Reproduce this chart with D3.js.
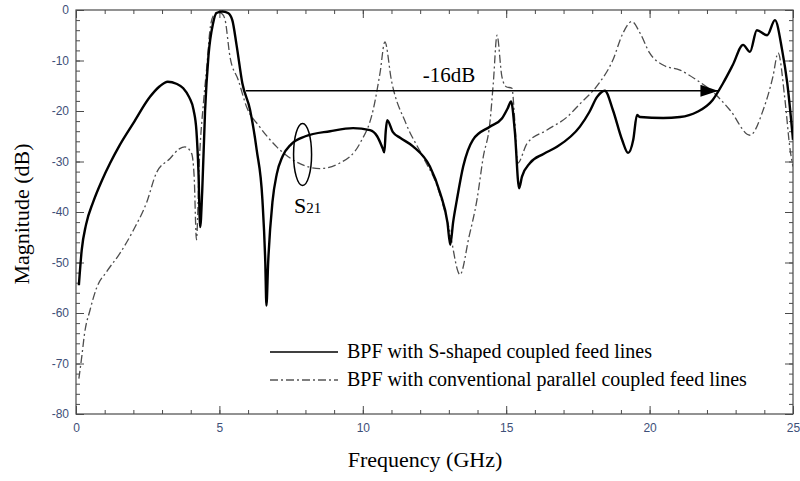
<!DOCTYPE html>
<html>
<head>
<meta charset="utf-8">
<script src="https://cdn.jsdelivr.net/npm/d3@7"></script>
<style>
  body { margin: 0; background: #fff; }
  svg { display: block; }
</style>
</head>
<body>
<svg id="chart" width="800" height="481"></svg>
<script>
// ---- data ----
const xTicks = [0, 5, 10, 15, 20, 25];
const yTicks = [0, -10, -20, -30, -40, -50, -60, -70, -80];
const xMinorTicks = d3.range(0, 26, 1);
const yMinorTicks = d3.range(-80, 1, 2);

const seriesNames = ["BPF with S-shaped coupled feed lines", "BPF with conventional parallel coupled feed lines"];

// S-shaped coupled feed lines (solid)
const sShaped = [
  [0.1,-54.5],[0.2,-47.5],[0.35,-42.5],[0.6,-38],[0.9,-33.8],[1.2,-30.2],[1.5,-27],[2.0,-22.4],[2.58,-17.2],[2.9,-15.2],
  [3.2,-14.2],[3.5,-14.6],[3.74,-15.5],[3.95,-17.3],[4.1,-19.8],[4.2,-24],[4.27,-32],[4.33,-43],[4.4,-36],
  [4.5,-20],[4.62,-9],[4.78,-2.6],[4.9,-0.6],[5.1,-0.3],[5.3,-0.6],[5.45,-2],[5.6,-7],[5.8,-14.5],[6.07,-19.8],
  [6.3,-27.7],[6.5,-37.6],[6.6,-50],[6.64,-58.5],[6.7,-50],[6.85,-38],[7.0,-32.5],[7.2,-29],[7.5,-26.6],[8.0,-25.0],
  [8.86,-24.0],[9.66,-23.4],[10.25,-23.8],[10.5,-25],[10.7,-27.5],[10.75,-28.2],[10.8,-24],[10.85,-21.8],
  [11.05,-24.2],[11.3,-25.3],[11.75,-27],[12.34,-31],[12.7,-36.3],[12.95,-42],[13.05,-46.5],[13.15,-42],
  [13.28,-37.6],[13.5,-31],[13.84,-25.7],[14.43,-23.1],[14.85,-21.5],[15.05,-19.5],[15.17,-18.1],[15.3,-24],
  [15.45,-35.3],[15.55,-33],[15.83,-30.3],[16.3,-28.5],[16.77,-27.1],[17.57,-23.1],[17.9,-20.2],[18.17,-17.2],
  [18.44,-16],[18.72,-19.8],[19.04,-25.7],[19.25,-28.3],[19.43,-25.7],[19.56,-20.8],[19.67,-21.2],[20.47,-21.4],
  [21.06,-21.2],[21.65,-20.2],[22.2,-17.8],[22.56,-14.5],[22.9,-10.9],[23.26,-6.9],[23.5,-8.3],[23.74,-4],
  [24.1,-5],[24.37,-2],[24.62,-7.9],[24.8,-14.5],[25,-25.7]
];

// Conventional parallel coupled feed lines (dash-dot)
const conventional = [
  [0.1,-73],[0.2,-68.7],[0.3,-64],[0.49,-59.4],[0.72,-55],[1.07,-51.8],[1.53,-48.2],[2.0,-43.6],[2.47,-38],
  [2.8,-32.3],[3.28,-29.4],[3.6,-27.5],[3.8,-27.1],[4.03,-28.4],[4.12,-33],[4.2,-45.5],[4.3,-30],[4.45,-18],
  [4.56,-11.3],[4.67,-4],[4.8,-1],[4.95,-0.4],[5.1,-0.8],[5.2,-2],[5.37,-9.3],[5.66,-13.9],[5.95,-19.2],
  [6.4,-23.1],[7.0,-27.1],[7.57,-29.7],[8.5,-31.4],[9.2,-30.3],[9.9,-26.4],[10.36,-19.8],[10.6,-12.5],
  [10.77,-6.3],[11.0,-14],[11.5,-22.4],[12.1,-29.1],[12.6,-35],[13.0,-43],[13.39,-52.4],[13.7,-45],
  [13.98,-37.6],[14.2,-29.1],[14.43,-22.4],[14.55,-14.5],[14.68,-5],[14.85,-13.2],[15.0,-15.2],[15.2,-15.5],
  [15.3,-22],[15.4,-30.3],[15.73,-26.4],[16.41,-23.8],[17.12,-21.2],[17.57,-18.6],[18.2,-14.8],[18.72,-9.9],
  [19.07,-4.6],[19.38,-2.3],[19.67,-4.6],[20.0,-8.5],[20.47,-10.9],[21.06,-11.9],[21.65,-13.9],[22.2,-16.2],
  [22.8,-19.8],[23.5,-24.8],[23.96,-19.8],[24.3,-13.2],[24.48,-8.5],[24.72,-17.8],[24.9,-27.7],[25,-31]
];

// annotation values
const refLevel = -16;           // dB
const refFrom = 5.92, refTo = 22.4; // GHz
const refLabel = "-16dB";
const markerAt = [7.9, -28.6];  // ellipse centre (GHz, dB)

// ---- drawing ----
const svg = d3.select("#chart");
const pL = 76, pR = 793, pT = 10, pB = 414;
const x = d3.scaleLinear().domain([0, 25]).range([pL, pR]);
const y = d3.scaleLinear().domain([-80, 0]).range([pB, pT]);

const labelColor = "#3e4f78";
const axisColor = "#4a4a4a";
const serif = "'Liberation Serif', 'Times New Roman', serif";

const defs = svg.append("defs");
defs.append("clipPath").attr("id", "clip")
  .append("rect").attr("x", pL).attr("y", pT).attr("width", pR - pL).attr("height", pB - pT);

function styleAxis(g) {
  g.select(".domain").remove();
  g.selectAll("line").attr("stroke", axisColor).attr("stroke-width", 1);
}

// minor ticks
svg.append("g").attr("transform", `translate(0,${pB})`)
  .call(d3.axisBottom(x).tickValues(xMinorTicks).tickSize(-4).tickFormat(""))
  .call(styleAxis);
svg.append("g").attr("transform", `translate(0,${pT})`)
  .call(d3.axisTop(x).tickValues(xMinorTicks).tickSize(-4).tickFormat(""))
  .call(styleAxis);
svg.append("g").attr("transform", `translate(${pL},0)`)
  .call(d3.axisLeft(y).tickValues(yMinorTicks).tickSize(-4).tickFormat(""))
  .call(styleAxis);
svg.append("g").attr("transform", `translate(${pR},0)`)
  .call(d3.axisRight(y).tickValues(yMinorTicks).tickSize(-4).tickFormat(""))
  .call(styleAxis);

// major ticks
const fmt = d => String(d);
const xAx = svg.append("g").attr("transform", `translate(0,${pB})`)
  .call(d3.axisBottom(x).tickValues(xTicks).tickSizeInner(-8).tickSizeOuter(0).tickPadding(14).tickFormat(fmt))
  .call(styleAxis);
svg.append("g").attr("transform", `translate(0,${pT})`)
  .call(d3.axisTop(x).tickValues(xTicks).tickSize(-8).tickFormat(""))
  .call(styleAxis);
const yAx = svg.append("g").attr("transform", `translate(${pL},0)`)
  .call(d3.axisLeft(y).tickValues(yTicks).tickSizeInner(-8).tickSizeOuter(0).tickPadding(14).tickFormat(fmt))
  .call(styleAxis);
svg.append("g").attr("transform", `translate(${pR},0)`)
  .call(d3.axisRight(y).tickValues(yTicks).tickSize(-8).tickFormat(""))
  .call(styleAxis);

[xAx, yAx].forEach(g => g.selectAll("text")
  .attr("fill", labelColor).attr("font-family", "Arial, 'Liberation Sans', sans-serif").attr("font-size", 12));
xAx.selectAll("text").attr("y", 9).attr("dy", "0.71em");
yAx.selectAll("text").attr("x", -7);

// frame
svg.append("rect").attr("x", pL).attr("y", pT).attr("width", pR - pL).attr("height", pB - pT)
  .attr("fill", "none").attr("stroke", axisColor).attr("stroke-width", 1.2);

// curves
const line = d3.line().x(d => x(d[0])).y(d => y(d[1])).curve(d3.curveMonotoneX);
const plot = svg.append("g").attr("clip-path", "url(#clip)");
plot.append("path").datum(conventional).attr("d", line)
  .attr("fill", "none").attr("stroke", "#4d4d4d").attr("stroke-width", 1.3)
  .attr("stroke-dasharray", "8,3,2,3");
plot.append("path").datum(sShaped).attr("d", line)
  .attr("fill", "none").attr("stroke", "#000").attr("stroke-width", 2.4).attr("stroke-linejoin", "round");

// -16 dB arrow
defs.append("marker").attr("id", "arrow")
  .attr("viewBox", "0 0 18 12").attr("refX", 18).attr("refY", 6)
  .attr("markerWidth", 18).attr("markerHeight", 12).attr("markerUnits", "userSpaceOnUse")
  .attr("orient", "auto")
  .append("path").attr("d", "M0,0 L18,6 L0,12 Z").attr("fill", "#000");
svg.append("line").attr("x1", x(refFrom)).attr("x2", x(refTo)).attr("y1", y(refLevel)).attr("y2", y(refLevel))
  .attr("stroke", "#000").attr("stroke-width", 1.6).attr("marker-end", "url(#arrow)");
svg.append("text").attr("x", 449).attr("y", 82).attr("text-anchor", "middle")
  .attr("font-family", serif).attr("font-size", 21)
  .text(refLabel);

// S21 ellipse marker
svg.append("ellipse").attr("cx", x(markerAt[0])).attr("cy", y(markerAt[1])).attr("rx", 9).attr("ry", 31)
  .attr("fill", "none").attr("stroke", "#000").attr("stroke-width", 1.5);
const s21 = svg.append("text").attr("x", 294).attr("y", 213)
  .attr("font-family", serif).attr("font-size", 22);
s21.append("tspan").text("S");
s21.append("tspan").attr("font-size", 15).text("21");

// legend
const legend = svg.append("g");
const legY = [352, 380];
legend.append("line").attr("x1", 270).attr("x2", 338).attr("y1", legY[0]).attr("y2", legY[0])
  .attr("stroke", "#000").attr("stroke-width", 1.6);
legend.append("line").attr("x1", 270).attr("x2", 338).attr("y1", legY[1]).attr("y2", legY[1])
  .attr("stroke", "#000").attr("stroke-width", 1.2).attr("stroke-dasharray", "8,3,2,3");
seriesNames.forEach((name, i) => {
  legend.append("text").attr("x", 347).attr("y", legY[i] + 6)
    .attr("font-family", serif).attr("font-size", 20)
    .attr("fill", "#000").text(name);
});

// axis titles
svg.append("text").attr("x", 425).attr("y", 467).attr("text-anchor", "middle")
  .attr("font-family", serif).attr("font-size", 22)
  .text("Frequency (GHz)");
svg.append("text").attr("transform", "translate(29,214) rotate(-90)").attr("text-anchor", "middle")
  .attr("font-family", serif).attr("font-size", 22)
  .text("Magnitude (dB)");
</script>
</body>
</html>
